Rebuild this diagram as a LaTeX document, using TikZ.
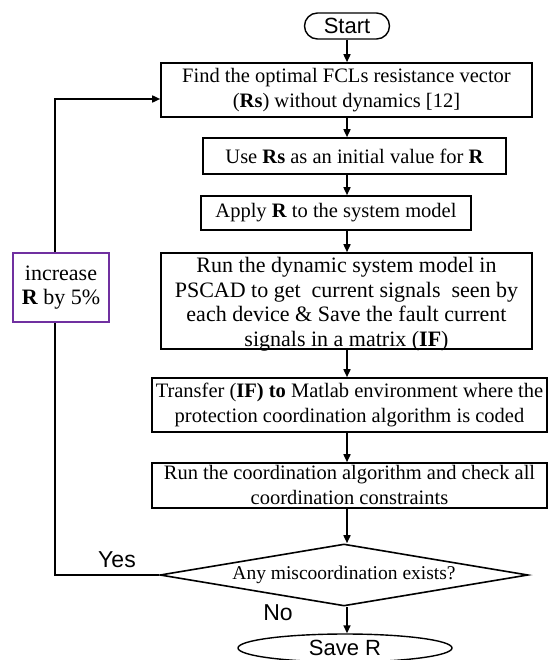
\documentclass[tikz,border=0pt]{standalone}
\usepackage{fontspec}
\setmainfont{Liberation Serif}
\setsansfont{Liberation Sans}
\usetikzlibrary{arrows.meta,shapes.geometric}
\definecolor{loopviolet}{RGB}{112,48,160}
\tikzset{
  proc/.style={draw, line width=1.6pt, fill=white, inner sep=0pt, align=center,
    font=\fontsize{20.5}{24.5}\selectfont},
  procbox/.style={draw, line width=1.6pt, fill=white, inner sep=0pt},
  proctext/.style={inner sep=0pt, align=center, font=\fontsize{20.5}{24.5}\selectfont},
  big/.style={font=\fontsize{22}{24.5}\selectfont},
  term/.style={draw, line width=1.4pt, fill=white, inner sep=0pt,
    font=\sffamily\fontsize{22}{24}\selectfont},
  flow/.style={line width=1.6pt, -{Triangle[length=8pt,width=7pt]}},
  lbl/.style={font=\sffamily\fontsize{23}{25}\selectfont, inner sep=0pt}
}
\begin{document}
\begin{tikzpicture}[x=1pt,y=-1pt]
\useasboundingbox (0,0) rectangle (554,660);

% main column of the flow chart
\coordinate (spine) at (347,0);
\node[term, rounded corners=13pt, minimum width=85pt, minimum height=26pt] (start) at (347,26) {Start};
\node[proc, minimum width=371pt, minimum height=54pt] (find) at (346.5,90)
  {Find the optimal FCLs resistance vector\\(\textbf{Rs}) without dynamics [12]};
\node[proc, minimum width=303pt, minimum height=36pt] (init) at (354.5,156)
  {Use \textbf{Rs} as an initial value for \textbf{R}};
\node[proc, minimum width=270pt, minimum height=34pt] (apply) at (336,213)
  {Apply \textbf{R} to the system model};
\node[procbox, minimum width=371pt, minimum height=96pt] (run) at (346.5,301) {};
\node[proctext, big] (runtext) at ([yshift=-3pt]run.center)
  {Run the dynamic system model in\\PSCAD to get \ current signals \ seen by\\each device \& Save the fault current\\signals in a matrix (\textbf{IF})};
\node[proc, minimum width=395pt, minimum height=54pt] (transfer) at (349.5,405)
  {Transfer (\textbf{IF) to} Matlab environment where the\\protection coordination algorithm is coded};
\node[procbox, minimum width=395pt, minimum height=45pt] (check) at (349.5,485.5) {};
\node[proctext] (checktext) at ([yshift=0.5pt]check.center)
  {Run the coordination algorithm and check all\\coordination constraints};
\node[diamond, draw, line width=1.6pt, inner sep=0pt, aspect=5.9,
  minimum width=368pt, minimum height=62pt,
  font=\fontsize{19.5}{22}\selectfont] (dec) at (344,575) {Any miscoordination exists?};
\node[term, ellipse, minimum width=214pt, minimum height=28pt] (save) at (345,648) {Save R};

% straight arrows down the column
\draw[flow] (start.south -| spine) -- (find.north -| spine);
\draw[flow] (find.south -| spine) -- (init.north -| spine);
\draw[flow] (init.south -| spine) -- (apply.north -| spine);
\draw[flow] (apply.south -| spine) -- (run.north -| spine);
\draw[flow] (run.south -| spine) -- (transfer.north -| spine);
\draw[flow] (transfer.south -| spine) -- (check.north -| spine);
\draw[flow] (check.south -| spine) -- (dec.north -| spine);
\draw[flow] (dec.south -| spine) -- (save.north -| spine);

% feedback loop on the left
\coordinate (loopBot) at (55,575);
\coordinate (loopTop) at (55,99);
\draw[flow] (dec.west) -- (loopBot) -- (loopTop) -- (find.west |- loopTop);
\node[draw=loopviolet, line width=1.5pt, fill=white, inner sep=0pt, align=center,
  minimum width=96pt, minimum height=69pt,
  font=\fontsize{22}{24.5}\selectfont] (incr) at (61,287.5)
  {increase\\\textbf{R} by 5\%};

% branch labels
\node[lbl] (yes) at (117,560) {Yes};
\node[lbl] (no) at (278,613) {No};
\end{tikzpicture}
\end{document}
